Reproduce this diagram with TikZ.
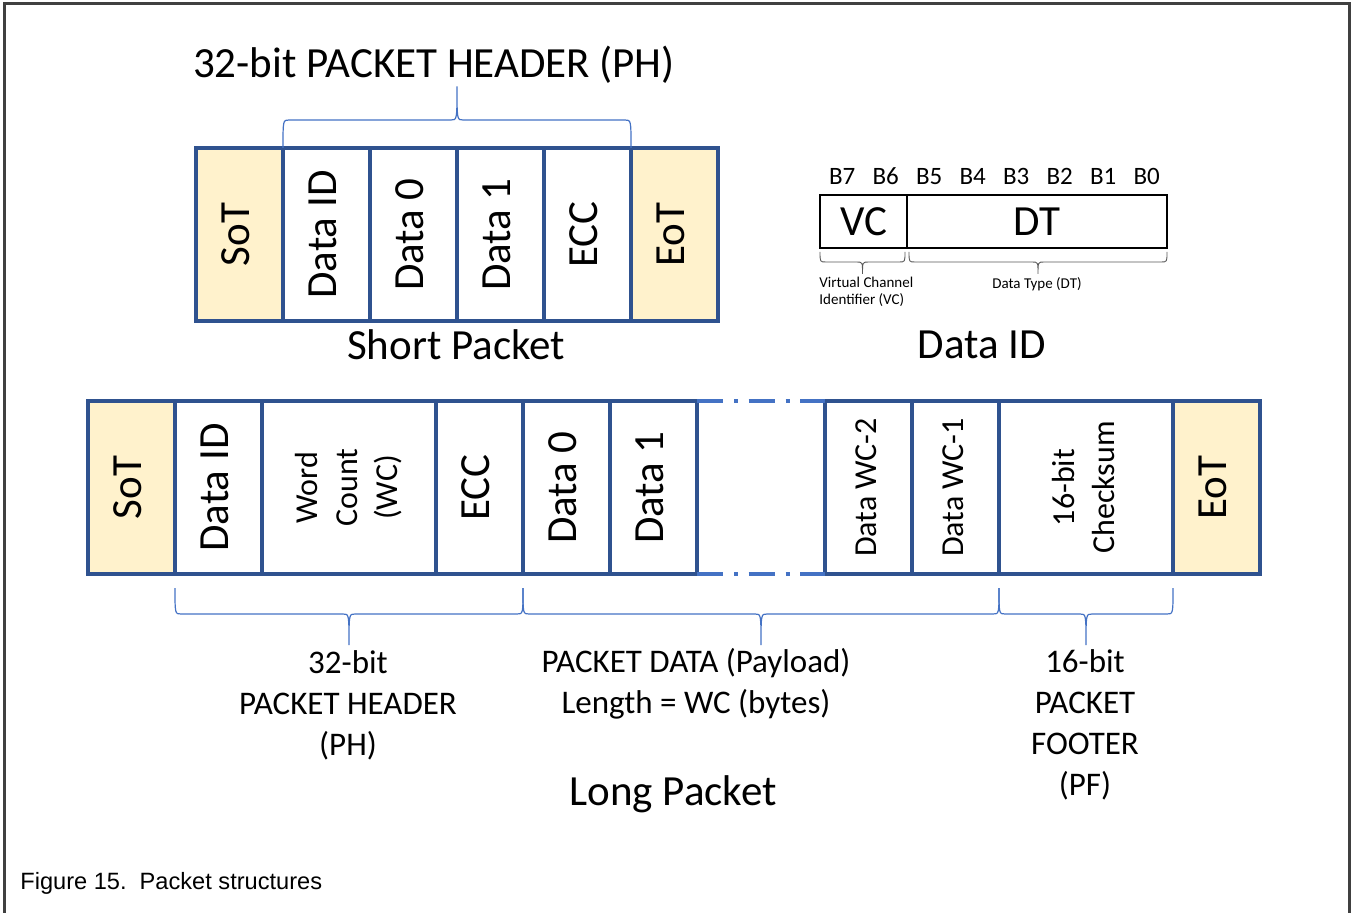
\documentclass[tikz,border=0pt]{standalone}
\usepackage{fontspec}
\setmainfont{Carlito}
\newfontfamily\capfont{Liberation Sans}
\usepackage{graphicx}
\usetikzlibrary{positioning}
\usetikzlibrary{calc}
\definecolor{cellblue}{HTML}{2F528F}
\definecolor{braceblue}{HTML}{4472C4}
\definecolor{sotfill}{HTML}{FFF2CC}
\newcommand{\bigfnt}{\fontsize{21.5}{25}\selectfont}
\newcommand{\midfnt}{\fontsize{16}{20}\selectfont}
\newcommand{\lblfnt}{\fontsize{16.5}{20.5}\selectfont}
\newcommand{\bitfnt}{\fontsize{12.5}{14}\selectfont}
\newcommand{\tinyfnt}{\fontsize{7.5}{8.5}\selectfont}
\newcommand{\vtext}[1]{\rotatebox{90}{\begin{tabular}{@{}c@{}}#1\end{tabular}}}

\begin{document}
\begin{tikzpicture}[x=0.5pt,y=-0.5pt,
  cell/.style={draw=cellblue,line width=2pt,minimum width=43.5pt,minimum height=86.5pt,inner sep=0pt,outer sep=0pt,font=\bigfnt},
  widecell/.style={cell,minimum width=87pt,font=\midfnt},
  endcell/.style={cell,fill=sotfill},
  bitbox/.style={draw=black,line width=1.2pt,minimum height=26.5pt,inner sep=0pt,outer sep=0pt,font=\bigfnt},
  gapline/.style={draw=braceblue,line width=2pt,dash pattern=on 13pt off 5.5pt on 2pt off 5.25pt},
  brk/.style={to path={let \p1=(\tikztostart),\p2=(\tikztotarget),\p3=($(\p1)!0.5!(\p2)$) in
    .. controls (\x1,{\y1+(#1)}) .. (\x1+3pt,{\y1+(#1)}) -- (\x3-3pt,{\y1+(#1)})
    .. controls (\x3,{\y1+(#1)}) .. (\x3,{\y1+2.2*(#1)})
    .. controls (\x3,{\y1+(#1)}) .. (\x3+3pt,{\y1+(#1)}) -- (\x2-3pt,{\y1+(#1)})
    .. controls (\x2,{\y1+(#1)}) .. (\x2,\y1)}},
  phbrace/.style={brk=#1,draw=braceblue,line width=0.6pt},
  idbrace/.style={brk=#1,draw=black!65,line width=0.45pt}]
\useasboundingbox (0,0) rectangle (1352,913);
\draw[line width=1.5pt,black!75] (4.5,913) -- (4.5,4) -- (1349.5,4) -- (1349.5,913);

% short packet
\node (sSoT) at (239.5,234.5) [endcell] {\vtext{SoT}};
\node (sDid) [cell,right=0pt of sSoT] {\vtext{Data ID}};
\node (sD0) [cell,right=0pt of sDid] {\vtext{Data 0}};
\node (sD1) [cell,right=0pt of sD0] {\vtext{Data 1}};
\node (sEcc) [cell,right=0pt of sD1] {\vtext{ECC}};
\node (sEoT) [endcell,right=0pt of sEcc] {\vtext{EoT}};
\draw[phbrace=14pt] (sDid.north west) to (sEcc.north east);
\node (phTitle) at (434,65) [font=\bigfnt] {32-bit PACKET HEADER (PH)};
\node (spTitle) at (456,345) [font=\bigfnt] {Short Packet};

% data id
\node (dVC) at (863.5,221.5) [bitbox,minimum width=43.5pt] {VC};
\node (dDT) [bitbox,minimum width=130pt,right=0pt of dVC] {DT};
\foreach \b [count=\i from 0] in {7,6,...,0}
  \node (b\b) at ({842.2+43.5*\i},185) [anchor=base,font=\bitfnt] {B\b};
\draw[idbrace=-5pt] ([yshift=-2pt]dVC.south west) to ([xshift=-1pt,yshift=-2pt]dVC.south east);
\draw[idbrace=-5pt] ([xshift=1pt,yshift=-2pt]dDT.south west) to ([yshift=-2pt]dDT.south east);
\node (vcLbl) at (819,292) [anchor=west,align=left,inner sep=0pt,font=\tinyfnt] {Virtual Channel\\Identifier (VC)};
\node (dtLbl) at (1037,284) [font=\tinyfnt] {Data Type (DT)};
\node (diTitle) at (982,345) [font=\bigfnt] {Data ID};

% long packet
\node (lSoT) at (131.5,487.5) [endcell] {\vtext{SoT}};
\node (lDid) [cell,right=0pt of lSoT] {\vtext{Data ID}};
\node (lWc) [widecell,right=0pt of lDid] {\vtext{Word\\Count\\(WC)}};
\node (lEcc) [cell,right=0pt of lWc] {\vtext{ECC}};
\node (lD0) [cell,right=0pt of lEcc] {\vtext{Data 0}};
\node (lD1) [cell,right=0pt of lD0] {\vtext{Data 1}};
\node (lWc2) [cell,font=\midfnt,right=64pt of lD1] {\vtext{Data WC-2}};
\node (lWc1) [cell,font=\midfnt,right=0pt of lWc2] {\vtext{Data WC-1}};
\node (lCs) [widecell,right=0pt of lWc1] {\vtext{16-bit\\Checksum}};
\node (lEoT) [endcell,right=0pt of lCs] {\vtext{EoT}};
\draw[gapline] (lD1.north east) -- (lWc2.north west);
\draw[gapline] (lD1.south east) -- (lWc2.south west);
\draw[phbrace=-13pt] ([yshift=-7pt]lDid.south west) to ([yshift=-7pt]lEcc.south east);
\draw[phbrace=-13pt] ([yshift=-7pt]lD0.south west) to ([yshift=-7pt]lWc1.south east);
\draw[phbrace=-13pt] ([yshift=-7pt]lCs.south west) to ([yshift=-7pt]lCs.south east);
\node (phLbl) at (348,705) [align=center,font=\lblfnt] {32-bit\\PACKET HEADER\\(PH)};
\node (pdLbl) at (696,684) [align=center,font=\lblfnt] {PACKET DATA (Payload)\\Length = WC (bytes)};
\node (pfLbl) at (1085,725) [align=center,font=\lblfnt] {16-bit\\PACKET\\FOOTER\\(PF)};
\node (lpTitle) at (673,794) [font=\bigfnt] {Long Packet};

\node (caption) at (20,883) [anchor=west,inner sep=0pt,font=\capfont\fontsize{11.8}{14}\selectfont,text=black] {Figure 15.\ \ Packet structures};
\end{tikzpicture}
\end{document}
